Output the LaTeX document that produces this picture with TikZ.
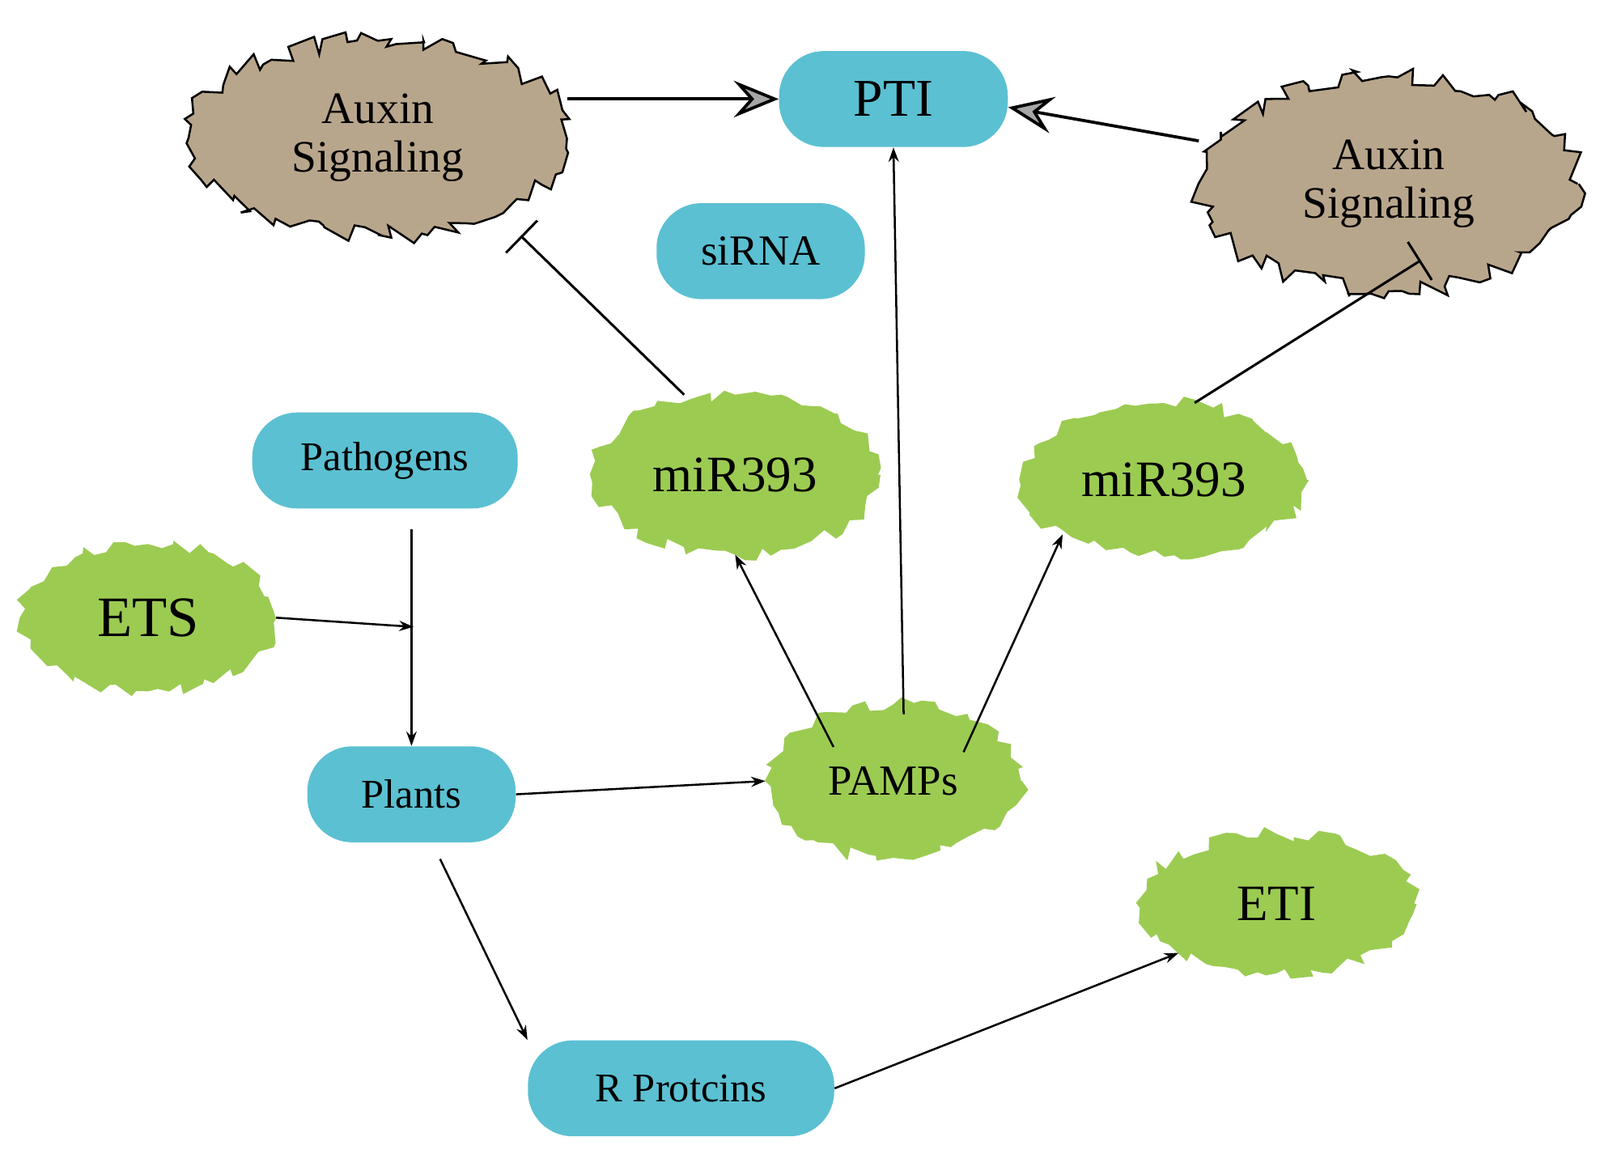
\documentclass[tikz,border=0pt]{standalone}
\usepackage{fontspec}
\setmainfont{Liberation Serif}
\usetikzlibrary{shapes.geometric,decorations.pathmorphing,arrows.meta}
\definecolor{cy}{HTML}{5BC0D2}
\definecolor{gr}{HTML}{9CCB52}
\definecolor{br}{HTML}{B8A68C}
\begin{document}
\begin{tikzpicture}[x=0.5pt,y=-0.5pt,
 rbox/.style={rounded corners=22pt,fill=cy,minimum height=47pt,align=center,inner sep=0pt},
 gblob/.style={ellipse,fill=gr,decorate,decoration={random steps,segment length=5pt,amplitude=3.5pt},inner sep=0pt},
 bblob/.style={ellipse,fill=br,draw=black,line width=1pt,decorate,decoration={random steps,segment length=5pt,amplitude=5pt},inner sep=0pt,align=center,font=\fontsize{22}{24}\selectfont},
 arr/.style={-{Stealth[length=7pt,width=5pt]},line width=1pt},
 big/.style={-{Stealth[length=22pt,width=18pt,inset=8pt,fill=gray!70]},line width=1.5pt},
 inh/.style={-{Bar[width=22pt]},line width=1.2pt}]
\useasboundingbox (0,0) rectangle (1567,1134);
\node[rbox,minimum width=112pt,font=\fontsize{26}{28}\selectfont] (pti) at (875,97) {PTI};
\node[rbox,minimum width=102pt,font=\fontsize{21}{24}\selectfont] (sirna) at (745,246) {siRNA};
\node[rbox,minimum width=130pt,font=\fontsize{20}{24}\selectfont] (path) at (377,451) {Pathogens};
\node[rbox,minimum width=102pt,font=\fontsize{20}{24}\selectfont] (plants) at (403,778) {Plants};
\node[rbox,minimum width=150pt,font=\fontsize{20}{24}\selectfont] (rp) at (667,1066) {R Protcins};
\node[bblob,minimum width=185pt,minimum height=95pt] (auxl) at (370,135) {Auxin\\Signaling};
\node[bblob,minimum width=185pt,minimum height=105pt] (auxr) at (1360,180) {Auxin\\Signaling};
\node[gblob,minimum width=140pt,minimum height=78pt,font=\fontsize{25}{28}\selectfont] (mirl) at (720,465) {miR393};
\node[gblob,minimum width=140pt,minimum height=75pt,font=\fontsize{25}{28}\selectfont] (mirr) at (1140,470) {miR393};
\node[gblob,minimum width=125pt,minimum height=72pt,font=\fontsize{28}{30}\selectfont] (ets) at (145,605) {ETS};
\node[gblob,minimum width=125pt,minimum height=75pt,font=\fontsize{21}{24}\selectfont] (pamps) at (875,765) {PAMPs};
\node[gblob,minimum width=135pt,minimum height=68pt,font=\fontsize{25}{28}\selectfont] (eti) at (1250,885) {ETI};
\coordinate (j) at (405,614);
\draw[big] (auxl.east) ++(0,-38) coordinate (a1) -- (pti.west);
\draw[big] (auxr.west) ++(0,-42) -- ([yshift=-4pt]pti.east);
\draw[arr] ([xshift=5pt,yshift=-5pt]pamps.north) -- (pti.south);
\draw[arr] (pamps.north west) ++(30,20) -- (mirl.south);
\draw[arr] (pamps.north east) ++(-20,25) -- (mirr.south west);
\draw[inh] (mirl.north) ++(-50,0) -- ([xshift=70pt]auxl.south);
\draw[inh] (mirr.north) ++(30,0) -- ([xshift=-50pt]auxr.south east);
\draw[arr] ([xshift=13pt,yshift=-10pt]path.south) -- (plants.north);
\draw[arr] (ets.east) -- (j);
\draw[arr] (plants.east) -- (pamps.west);
\draw[arr] ([xshift=14pt,yshift=-8pt]plants.south) -- (rp.north west);
\draw[arr] (rp.east) -- (eti.south west);
\end{tikzpicture}
\end{document}
